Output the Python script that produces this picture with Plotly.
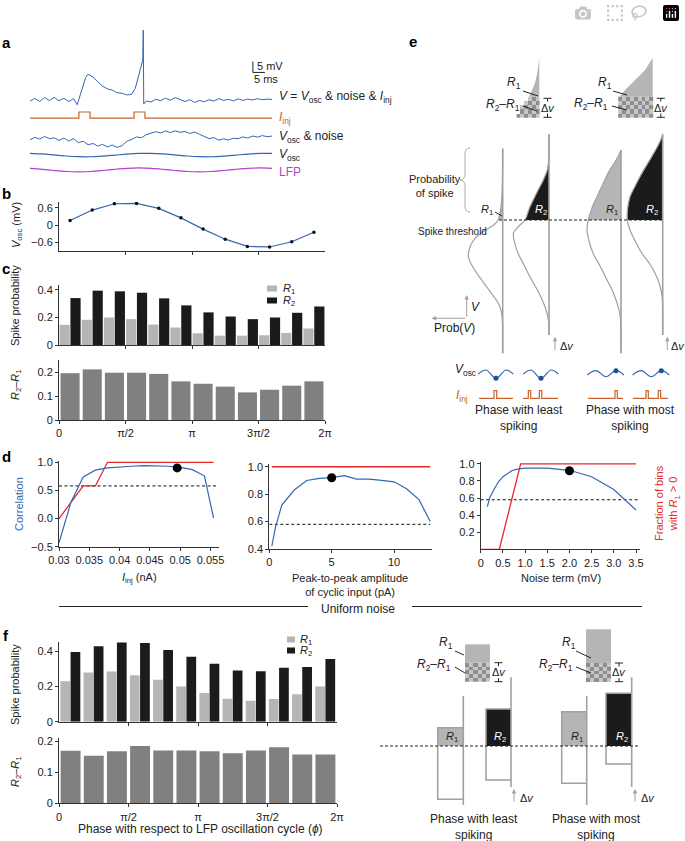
import numpy as np
import plotly.graph_objects as go

W, H = 685, 841
PI = np.pi
FONT = "Liberation Sans, Arial, Helvetica, sans-serif"
BLUE = "#3567b0"; RED = "#e8262b"; ORANGE = "#c9612c"; MAGENTA = "#b43fd0"
R1C = "#b5b5b5"; R2C = "#1b1b1b"; DIFFC = "#808080"; GL = "#a0a0a0"; INK = "#222222"

# ======================= DATA =======================
# ---- a: example traces (time ms; potential mV, display offsets) ----
a_v_t = [0, 2, 4, 6, 8, 10, 12, 14, 16, 18, 19.5, 21, 22, 23, 24, 26, 28, 30, 32, 34,
         36, 38, 40, 42, 43.5, 45, 46.6, 46.8, 47.0, 48, 50, 52, 54, 56, 58, 60, 62, 64,
         66, 68, 70, 72, 74, 76, 78, 80, 82, 84, 86, 88, 90, 92, 94, 96, 98, 100]
a_v_v = [35.2, 36.4, 35.0, 36.8, 35.5, 36.9, 35.3, 36.5, 35.0, 36.3,
         33.5, 38.5, 42.5, 46.0, 47.5, 46.2, 44.0, 42.0, 40.8, 40.2,
         39.0, 38.8, 38.0, 38.3, 41.0, 47.0, 54.0, 67.7, 33.8,
         35.2, 34.8, 36.0, 35.4, 36.5, 35.6, 36.8, 35.9, 35.0,
         35.8, 34.6, 35.5, 34.9, 35.8, 35.2, 36.3, 35.5, 36.0, 35.3, 36.2, 35.5, 36.1, 35.7, 36.3, 35.8, 36.1, 35.9]
a_inj_t = [0, 20.2, 20.2, 24.8, 24.8, 43.0, 43.0, 47.5, 47.5, 100]
a_inj_v = [27.4, 27.4, 30.2, 30.2, 27.4, 27.4, 30.2, 30.2, 27.4, 27.4]
a_noise_t = list(range(0, 101, 2))
a_noise_v = [17.5, 18.6, 17.8, 19.0, 18.0, 18.4, 17.2, 18.3, 16.9, 18.0,
             16.2, 16.8, 15.2, 15.8, 14.6, 15.4, 14.2, 15.1, 14.0, 14.8,
             16.8, 17.6, 18.8, 18.4, 19.8, 20.5, 21.2, 20.6, 21.5, 20.8,
             21.6, 20.9, 21.3, 20.4, 21.0, 20.0, 19.0, 18.0, 18.5, 17.3,
             17.9, 17.4, 18.2, 18.0, 18.8, 18.3, 19.2, 18.7, 19.4, 18.9, 19.2]
a_osc_t = list(range(0, 101, 5))
a_osc_v = [11.27, 11.01, 10.55, 10.07, 9.76, 9.72, 9.99, 10.45, 10.93, 11.24, 11.28,
           11.01, 10.55, 10.07, 9.76, 9.72, 9.99, 10.45, 10.93, 11.24, 11.28]
a_lfp_v = [4.43, 3.98, 3.42, 2.97, 2.80, 2.97, 3.42, 3.98, 4.43, 4.60, 4.43,
           3.98, 3.42, 2.97, 2.80, 2.97, 3.42, 3.98, 4.43, 4.60, 4.43]

# ---- b, c, f: 12 phase bins ----
n_bins = 12
phase_centers = [(k + 0.5) * 2 * PI / n_bins for k in range(n_bins)]
phase_ticks = [0, PI / 2, PI, 3 * PI / 2, 2 * PI]
phase_ticklabels = ["0", "π/2", "π", "3π/2", "2π"]
b_vosc = [0.16, 0.52, 0.74, 0.75, 0.58, 0.25, -0.14, -0.49, -0.74, -0.76, -0.58, -0.25]
c_r1 = [0.146, 0.183, 0.200, 0.188, 0.149, 0.127, 0.085, 0.068, 0.068, 0.071, 0.088, 0.120]
c_r2 = [0.341, 0.395, 0.390, 0.380, 0.339, 0.288, 0.237, 0.207, 0.188, 0.200, 0.234, 0.280]
c_diff = [0.195, 0.211, 0.197, 0.197, 0.192, 0.161, 0.151, 0.139, 0.115, 0.126, 0.143, 0.161]
f_r1 = [0.229, 0.278, 0.284, 0.263, 0.238, 0.200, 0.162, 0.130, 0.118, 0.128, 0.156, 0.200]
f_r2 = [0.394, 0.427, 0.448, 0.446, 0.406, 0.368, 0.328, 0.290, 0.286, 0.305, 0.310, 0.355]
f_diff = [0.169, 0.153, 0.167, 0.184, 0.170, 0.170, 0.167, 0.161, 0.170, 0.180, 0.157, 0.157]

# ---- d: parameter sweeps ----
d_chance = 0.58
d1_x = [0.030, 0.032, 0.034, 0.036, 0.038, 0.040, 0.042, 0.044, 0.046, 0.048, 0.050, 0.052, 0.054, 0.0555]
d1_corr = [-0.43, 0.30, 0.74, 0.86, 0.90, 0.92, 0.93, 0.94, 0.94, 0.93, 0.91, 0.87, 0.76, 0.01]
d1_frac_x = [0.030, 0.034, 0.036, 0.038, 0.0555]
d1_frac = [0.0, 0.58, 0.58, 1.0, 1.0]
d1_dot = [0.0495, 0.90]
d2_x = [0.2, 0.5, 1, 2, 3, 4, 5, 6, 7, 8, 9, 10, 11, 12, 12.9]
d2_corr = [0.42, 0.56, 0.72, 0.83, 0.90, 0.915, 0.92, 0.935, 0.91, 0.91, 0.90, 0.89, 0.84, 0.76, 0.60]
d2_frac_x = [0.2, 12.9]
d2_frac = [1.0, 1.0]
d2_dot = [5, 0.92]
d3_x = [0.15, 0.2, 0.3, 0.4, 0.5, 0.6, 0.7, 0.8, 0.9, 1.0, 1.5, 2.0, 2.5, 3.0, 3.5]
d3_corr = [0.50, 0.60, 0.70, 0.79, 0.85, 0.89, 0.92, 0.935, 0.945, 0.95, 0.95, 0.925, 0.85, 0.70, 0.46]
d3_frac_x = [0.0, 0.42, 0.9, 3.5]
d3_frac = [0.0, 0.0, 1.0, 1.0]
d3_dot = [2.0, 0.92]

# ---- e: schematic (drawn in page-pixel units) ----
e_thr_y = 220
e_line_x = [502.7, 549.0, 621.0, 662.7]
e_line_top = [148.3, 134.3, 150.0, 134.3]
e_line_bot = [353.3, 335.0, 353.3, 335.0]
e_curve_v = [
    [150, 190, 205, 215, 220, 225, 230, 235, 240, 248, 257, 265, 273, 280, 287, 295, 303, 311, 320, 353.3],
    [134.3, 160, 170, 180, 193, 206.7, 220, 226, 233, 240, 253, 266, 280, 293, 306.7, 320, 335],
    [150, 156.7, 165, 173.3, 185, 196.7, 208, 220, 230, 241, 253, 266, 280, 292, 303, 312, 320, 353.3],
    [134.3, 140, 148, 156.7, 165, 173.3, 185, 196.7, 208, 220, 230, 241, 253, 263, 273, 285, 296.7, 335]]
e_curve_p = [
    [0, 0.5, 1.5, 3, 4.5, 9, 17, 24, 29, 33, 34.3, 31, 26, 21, 16, 10, 4.5, 1.5, 0.3, 0],
    [0, 0.3, 1.7, 5.7, 12.3, 19, 24, 30, 35.5, 35, 31, 24.5, 17.3, 10, 4, 0.5, 0],
    [0, 3, 8, 13, 18.5, 24, 29, 32.7, 34, 32, 28, 21, 14, 8, 4, 1.5, 0.5, 0],
    [0, 2, 6, 11, 16, 21, 27, 32.7, 35, 35.4, 32.7, 27.5, 21, 13.5, 7.7, 3, 0.5, 0]]
e_fill = [R1C, R2C, R1C, R2C]
e_in_right = [539.3, 652.7]
e_in_v = [[58, 66, 73, 83, 90, 96.7, 102, 106.7, 112, 117.3],
          [58, 64, 70, 75, 80, 85, 90, 96.7, 106.7, 117.3]]
e_in_w = [[0, 1, 2, 4.3, 7, 10, 13.5, 16.7, 20, 22.7],
          [0, 3.5, 7.7, 12.5, 17.7, 23, 27.7, 32.7, 34.3, 34.5]]
e_in_mid = 96.7
e_in_bot = 117.3
e_wave_x = [[478.3, 486, 496, 506, 513.3], [523.3, 531, 541, 551, 558.3],
            [587.3, 596, 606, 616, 624], [632.6, 641.3, 651.3, 661.3, 669.3]]
e_wave_y = [[374, 370, 378.3, 370, 374], [374, 370, 378.3, 370, 374],
            [375, 370.7, 376.7, 370.7, 375], [375, 370.7, 376.7, 370.7, 375]]
e_wave_dot = [[496, 378.3], [541, 378.3], [616, 370.7], [661.3, 370.7]]
e_pulse_x = [[479, 494, 494, 496.7, 496.7, 513],
             [523, 528.3, 528.3, 530.7, 530.7, 539.3, 539.3, 541.7, 541.7, 558],
             [588, 615, 615, 617.3, 617.3, 623],
             [633, 646, 646, 648.3, 648.3, 658.3, 658.3, 660.7, 660.7, 668]]
e_pulse_lo, e_pulse_hi = 398.3, 390.7

# uniform-noise schematic
u_thr_y = 746
u_line_x = [463.3, 511.0, 586.7, 631.7]
u_line_top = [696, 677.3, 696, 677.3]
u_line_bot = [805, 787, 805, 787]
u_box_left = [437.7, 486.0, 561.7, 606.0]
u_box_top = [727.7, 709.0, 711.7, 693.3]
u_box_bot = [799.3, 780.0, 783.3, 764.0]
u_in_x = [[465, 490], [586, 611]]
u_in_top = [644.3, 629.3]
u_in_mid = [662.7, 663.0]
u_in_bot = 681.7

# ======================= FIGURE =======================
fig = go.Figure()

def Y(p):
    return 1 - p / H

def X(p):
    return p / W

def sc(x, y, ax, color=INK, width=1.0, dash=None, shape="linear", mode="lines", **kw):
    xa, ya = ax
    fig.add_trace(go.Scatter(x=x, y=y, xaxis=xa, yaxis=ya, mode=mode,
                             line=dict(color=color, width=width, dash=dash, shape=shape),
                             hoverinfo="skip", **kw))

A = ("x", "y"); B = ("x2", "y2"); C1 = ("x3", "y3"); C2 = ("x4", "y4")
D1 = ("x5", "y5"); D2 = ("x6", "y6"); D3 = ("x7", "y7"); F1 = ("x8", "y8"); F2 = ("x9", "y9")
E = ("x10", "y10")

# --- a ---
sc(a_v_t, a_v_v, A, BLUE, 1)
sc(a_inj_t, a_inj_v, A, ORANGE, 1.2)
sc(a_noise_t, a_noise_v, A, BLUE, 1)
sc(a_osc_t, a_osc_v, A, BLUE, 1.2, shape="spline")
sc(a_osc_t, a_lfp_v, A, MAGENTA, 1.2, shape="spline")

# --- b ---
sc(phase_centers, b_vosc, B, BLUE, 1.2, mode="lines+markers", marker=dict(color="#111", size=3.5))

# --- bars ---
s = 2 * PI / n_bins
def bar(y, ax, color, width, offset):
    fig.add_trace(go.Bar(x=phase_centers, y=y, xaxis=ax[0], yaxis=ax[1], width=width * s,
                         offset=offset * s, marker=dict(color=color, line=dict(width=0)),
                         hoverinfo="skip"))
bar(c_r1, C1, R1C, 0.46, -0.475)
bar(c_r2, C1, R2C, 0.46, 0.015)
bar(c_diff, C2, DIFFC, 0.86, -0.43)
bar(f_r1, F1, R1C, 0.42, -0.44)
bar(f_r2, F1, R2C, 0.42, -0.0)
bar(f_diff, F2, DIFFC, 0.86, -0.43)

# --- d ---
for ax, xs, cs, fx, fv, dot, xr in [(D1, d1_x, d1_corr, d1_frac_x, d1_frac, d1_dot, [0.030, 0.0562]),
                                     (D2, d2_x, d2_corr, d2_frac_x, d2_frac, d2_dot, [0.0, 12.9]),
                                     (D3, d3_x, d3_corr, d3_frac_x, d3_frac, d3_dot, [0.0, 3.6])]:
    sc(xr, [d_chance, d_chance], ax, "#111", 1, dash="3px,2.5px")
    sc(fx, fv, ax, RED, 1.3)
    sc(xs, cs, ax, BLUE, 1.2)
    sc([dot[0]], [dot[1]], ax, mode="markers", marker=dict(color="#000", size=9))

# --- e schematic ---
for k in range(4):
    lx = e_line_x[k]; V = e_curve_v[k]; P = e_curve_p[k]
    sel = [i for i, v in enumerate(V) if v <= e_thr_y]
    px_ = [lx - P[i] for i in sel] + [lx, lx]
    py_ = [V[i] for i in sel] + [e_thr_y, V[0]]
    fig.add_trace(go.Scatter(x=px_, y=py_, xaxis="x10", yaxis="y10", mode="lines", fill="toself",
                             fillcolor=e_fill[k], line=dict(width=0), hoverinfo="skip"))
    sc([lx - p for p in P], V, E, GL, 1.2, shape="spline")
    sc([lx, lx], [e_line_top[k], e_line_bot[k]], E, GL, 1.6)
sc([499, 662], [e_thr_y, e_thr_y], E, "#222", 1.2, dash="3px,2px")

CHECK_SCALE = [[0, "#8e8e8e"], [1, "#c6c6c6"]]
def checker(xl, xr, y0, y1, bound=None):
    nx = max(1, int(round((xr - xl) / 4.0))); ny = max(1, int(round((y1 - y0) / 4.0)))
    cw = (xr - xl) / nx; ch = (y1 - y0) / ny
    xs = [xr - cw * (i + 0.5) for i in range(nx)][::-1]
    ys = [y0 + ch * (j + 0.5) for j in range(ny)]
    z = []
    for j, yc in enumerate(ys):
        row = []
        left = bound(yc) if bound else xl
        for i, xc in enumerate(xs):
            row.append(((i + j) % 2) if xc >= left - 0.3 * cw else None)
        z.append(row)
    fig.add_trace(go.Heatmap(x=xs, y=ys, z=z, xaxis="x10", yaxis="y10", colorscale=CHECK_SCALE,
                             zmin=0, zmax=1, showscale=False, hoverinfo="skip"))

for k in range(2):
    xr = e_in_right[k]; V = e_in_v[k]; Wd = e_in_w[k]
    sel = [i for i, v in enumerate(V) if v <= e_in_mid]
    fig.add_trace(go.Scatter(x=[xr - Wd[i] for i in sel] + [xr, xr], y=[V[i] for i in sel] + [e_in_mid, V[0]],
                             xaxis="x10", yaxis="y10", mode="lines", fill="toself", fillcolor=R1C,
                             line=dict(width=0), hoverinfo="skip"))
    checker(xr - max(Wd), xr, e_in_mid, e_in_bot,
            bound=lambda y, V=V, Wd=Wd, xr=xr: xr - float(np.interp(y, V, Wd)))

for k in range(4):
    sc(e_wave_x[k], e_wave_y[k], E, BLUE, 1.2, shape="spline")
    sc([e_wave_dot[k][0]], [e_wave_dot[k][1]], E, mode="markers", marker=dict(color="#1f4f99", size=5))
    yy = [e_pulse_lo if (i % 4 in (0, 1)) else e_pulse_hi for i in range(len(e_pulse_x[k]))]
    sc(e_pulse_x[k], yy, E, ORANGE, 1.2)

# uniform noise schematic
for k in range(4):
    lx = u_line_x[k]; l = u_box_left[k]; t = u_box_top[k]; b = u_box_bot[k]
    fig.add_trace(go.Scatter(x=[l, lx, lx, l, l], y=[t, t, u_thr_y, u_thr_y, t], xaxis="x10", yaxis="y10",
                             mode="lines", fill="toself", fillcolor=e_fill[k], line=dict(width=0),
                             hoverinfo="skip"))
    sc([lx, l, l, lx], [t, t, b, b], E, GL, 1.5)
    sc([lx, lx], [u_line_top[k], u_line_bot[k]], E, GL, 1.6)
sc([380, 638], [u_thr_y, u_thr_y], E, "#222", 1.2, dash="3px,2px")
for k in range(2):
    x0, x1 = u_in_x[k]
    fig.add_trace(go.Scatter(x=[x0, x1, x1, x0, x0], y=[u_in_top[k], u_in_top[k], u_in_mid[k], u_in_mid[k], u_in_top[k]],
                             xaxis="x10", yaxis="y10", mode="lines", fill="toself", fillcolor=R1C,
                             line=dict(width=0), hoverinfo="skip"))
    checker(x0, x1, u_in_mid[k], u_in_bot)

# ======================= TEXT / DECOR =======================
ann = []; shp = []
def T(x, y, s, size=11, color=INK, xa="center", ya="middle", angle=0):
    ann.append(dict(x=x, y=y, xref="x10", yref="y10", text=s, showarrow=False, textangle=angle,
                    font=dict(size=size, color=color, family=FONT), xanchor=xa, yanchor=ya))
def ARW(x0, y0, x1, y1):
    ann.append(dict(x=x1, y=y1, ax=x0, ay=y0, xref="x10", yref="y10", axref="x10", ayref="y10",
                    text="", showarrow=True, arrowhead=2, arrowsize=0.9, arrowwidth=1, arrowcolor=GL,
                    standoff=0, startstandoff=0))
def Ln(x0, y0, x1, y1, color=INK, width=1, xref="x10", yref="y10"):
    shp.append(dict(type="line", x0=x0, y0=y0, x1=x1, y1=y1, xref=xref, yref=yref,
                    line=dict(color=color, width=width)))
def Rc(x0, y0, x1, y1, color):
    shp.append(dict(type="rect", x0=x0, y0=y0, x1=x1, y1=y1, xref="x10", yref="y10",
                    fillcolor=color, line=dict(width=0)))

R1 = "<i>R</i><sub>1</sub>"; R2 = "<i>R</i><sub>2</sub>"; R21 = "<i>R</i><sub>2</sub>–<i>R</i><sub>1</sub>"
DV = "Δ<i>v</i>"
VOSC = "<i>V</i><sub>osc</sub>"; IINJ = "<i>I</i><sub>inj</sub>"

# panel letters
for lt, x, y in [("a", 6, 42), ("b", 6, 193), ("c", 6, 268), ("d", 6, 456), ("e", 413, 41), ("f", 6, 635)]:
    T(x, y, "<b>%s</b>" % lt, size=15, color="#000")

# a labels and scale bar
T(277, 97, "<i>V</i> = " + VOSC + " &amp; noise &amp; " + IINJ, 12, xa="left")
T(277, 118, IINJ, 12, ORANGE, xa="left")
T(277, 137, VOSC + " &amp; noise", 12, xa="left")
T(277, 155, VOSC, 12, xa="left")
T(277, 172, "LFP", 12, MAGENTA, xa="left")
Ln(92.1, 48.3, 92.1, 53.3, "#222", 1, "x", "y")
Ln(92.1, 48.3, 97.1, 48.3, "#222", 1, "x", "y")
T(255, 66, "5 mV", 11, xa="left")
T(252, 79, "5 ms", 11, xa="left")

# axis titles
T(17, 225, VOSC + " (mV)", 11, angle=-90)
T(15, 306, "Spike probability", 11, angle=-90)
T(16, 385, R21, 11, angle=-90)
T(19, 504, "Correlation", 11, BLUE, angle=-90)
T(667, 503, "Fraction of bins<br>with " + R1 + " > 0", 11, RED, angle=-90)
T(15, 685, "Spike probability", 11, angle=-90)
T(16, 772, R21, 11, angle=-90)
T(139, 578, IINJ + " (nA)", 11)
T(350, 585, "Peak-to-peak amplitude<br>of cyclic input (pA)", 11)
T(561, 578, "Noise term (mV)", 11)
T(200, 829, "Phase with respect to LFP oscillation cycle (<i>ϕ</i>)", 12)

# legends
Rc(267, 285.5, 277, 291.5, R1C); Rc(267, 297.5, 277, 303.5, R2C)
T(281, 288.5, R1, 11, xa="left"); T(281, 300.5, R2, 11, xa="left")
Rc(287, 636.5, 295, 642.5, R1C); Rc(287, 647.5, 295, 653.5, R2C)
T(298, 639.5, R1, 11, xa="left"); T(298, 650.5, R2, 11, xa="left")

# uniform noise separator
Ln(59, 606.5, 308, 606.5); Ln(412, 606.5, 642, 606.5)
T(358, 609, "Uniform noise", 12)

# e labels
T(435, 186, "Probability<br>of spike", 11)
shp.append(dict(type="path", xref="x10", yref="y10", line=dict(color="#aaaaaa", width=1),
                path="M 470 148 Q 465 148 465 154 L 465 174 Q 465 180 460 180 Q 465 180 465 186 L 465 206 Q 465 212 470 212"))
T(452, 231, "Spike threshold", 10)
T(487, 210, R1, 11); Ln(495, 212, 502, 216)
T(541, 210, R2, 11, "#ffffff")
T(612, 210, R1, 11)
T(652, 210, R2, 11, "#ffffff")
ARW(466.7, 318.3, 466.7, 295); ARW(466.7, 318.3, 431.7, 318.3)
T(475, 307, "<i>V</i>", 12)
T(454, 328, "Prob(<i>V</i>)", 12)
ARW(555, 351.7, 555, 336.7); T(567, 346, DV, 11)
ARW(667.3, 351.7, 667.3, 336.7); T(678, 346, DV, 11)
T(465, 370, VOSC, 12)
T(462, 396, IINJ, 12, ORANGE)
T(519, 418, "Phase with least<br>spiking", 12)
T(630, 418, "Phase with most<br>spiking", 12)

# e insets (Gaussian)
for (r1x, r1y, l1, r21x, r21y, l2, bx) in [
        (514, 83, (523, 91, 538, 96), 522, 105, (523, 106, 537, 111), 547.5),
        (605, 83, (613, 91, 627, 95), 610, 104, (612, 106, 627, 110), 660.8)]:
    T(r1x, r1y, R1, 12); Ln(*l1)
    T(r21x, r21y, R21, 12, xa="right"); Ln(*l2)
    Ln(bx - 4, 98.3, bx + 4, 98.3); Ln(bx, 98.3, bx, 101.5)
    Ln(bx - 4, 117.3, bx + 4, 117.3); Ln(bx, 113.5, bx, 117.3)
    T(bx, 107.5, DV, 11)

# uniform-noise labels
for (r1x, l1, r21x, l2, bx, top, bot) in [
        (446, (455, 651, 464, 655), 453, (455, 667, 465, 673), 498.5, 662.7, 681.7),
        (569, (576, 651, 591, 658), 575, (576, 667, 591, 673), 619, 663, 681.7)]:
    T(r1x, 643, R1, 12); Ln(*l1)
    T(r21x, 665, R21, 12, xa="right"); Ln(*l2)
    Ln(bx - 4, top, bx + 4, top); Ln(bx, top, bx, top + 3.5)
    Ln(bx - 4, bot, bx + 4, bot); Ln(bx, bot - 3.5, bx, bot)
    T(bx, (top + bot) / 2, DV, 11)
T(452, 737, R1, 11); T(500, 737, R2, 11, "#ffffff")
T(577, 737, R1, 11); T(622, 737, R2, 11, "#ffffff")
ARW(514, 803, 514, 789); T(527, 798, DV, 11)
ARW(635, 803, 635, 789); T(648, 798, DV, 11)
T(474, 827, "Phase with least<br>spiking", 12)
T(596, 827, "Phase with most<br>spiking", 12)

# ======================= AXES =======================
def ax(domain, rng, anchor, **kw):
    d = dict(domain=domain, range=rng, anchor=anchor, showgrid=False, zeroline=False, showline=True,
             linecolor="#333", linewidth=1, ticks="outside", ticklen=3, tickwidth=1, tickcolor="#333",
             tickfont=dict(size=11, color=INK, family=FONT), fixedrange=True, automargin=False)
    d.update(kw)
    return d

def hid(domain, rng, anchor):
    return dict(domain=domain, range=rng, anchor=anchor, visible=False, fixedrange=True, automargin=False)

xb = [X(59), X(325)]; xf = [X(59), X(337)]
fig.update_layout(
    template="none",
    width=W, height=H, autosize=False,
    margin=dict(l=0, r=0, t=0, b=0, pad=0, autoexpand=False), showlegend=False, barmode="overlay",
    paper_bgcolor="white", plot_bgcolor="rgba(0,0,0,0)", hovermode=False,
    font=dict(family=FONT, color=INK),
    xaxis=hid([X(30), X(272)], [0, 100], "y"),
    yaxis=hid([Y(178), Y(25)], [0, 70], "x"),
    xaxis2=ax(xb, [0, 2 * PI], "y2", tickvals=phase_ticks[1:4], showticklabels=False),
    yaxis2=ax([Y(251), Y(202)], [-0.9, 0.8], "x2", tickvals=[-0.6, 0, 0.6], ticktext=["−0.6", "0", "0.6"]),
    xaxis3=ax(xb, [0, 2 * PI], "y3", tickvals=phase_ticks[1:4], showticklabels=False),
    yaxis3=ax([Y(345), Y(285)], [0, 0.436], "x3", tickvals=[0, 0.2, 0.4], ticktext=["0", "0.2", "0.4"]),
    xaxis4=ax(xb, [0, 2 * PI], "y4", tickvals=phase_ticks, ticktext=phase_ticklabels),
    yaxis4=ax([Y(420), Y(360)], [0, 0.25], "x4", tickvals=[0, 0.1, 0.2], ticktext=["0", "0.1", "0.2"]),
    xaxis5=ax([X(59), X(219)], [0.03, 0.0564], "y5", tickvals=[0.03, 0.035, 0.04, 0.045, 0.05, 0.055],
              ticktext=["0.03", "0.035", "0.04", "0.045", "0.05", "0.055"]),
    yaxis5=ax([Y(546.7), Y(461)], [-0.5, 1.023], "x5", tickvals=[-0.5, 0, 0.5, 1.0],
              ticktext=["−0.5", "0.0", "0.5", "1.0"]),
    xaxis6=ax([X(269.3), X(432)], [0, 13.04], "y6", tickvals=[0, 5, 10]),
    yaxis6=ax([Y(549), Y(464)], [0.4, 1.02], "x6", tickvals=[0.4, 0.6, 0.8, 1.0],
              ticktext=["0.4", "0.6", "0.8", "1.0"]),
    xaxis7=ax([X(480.7), X(640)], [0, 3.59], "y7", tickvals=[0, 0.5, 1, 1.5, 2, 2.5, 3, 3.5],
              ticktext=["0", "0.5", "1.0", "1.5", "2.0", "2.5", "3.0", "3.5"]),
    yaxis7=ax([Y(549.3), Y(462)], [0, 1.022], "x7", tickvals=[0.2, 0.4, 0.6, 0.8, 1.0],
              ticktext=["0.2", "0.4", "0.6", "0.8", "1.0"]),
    xaxis8=ax(xf, [0, 2 * PI], "y8", tickvals=phase_ticks[1:4], showticklabels=False),
    yaxis8=ax([Y(721.7), Y(641.7)], [0, 0.453], "x8", tickvals=[0, 0.2, 0.4], ticktext=["0", "0.2", "0.4"]),
    xaxis9=ax(xf, [0, 2 * PI], "y9", tickvals=phase_ticks, ticktext=phase_ticklabels),
    yaxis9=ax([Y(803.3), Y(738)], [0, 0.21], "x9", tickvals=[0, 0.1, 0.2], ticktext=["0", "0.1", "0.2"]),
    xaxis10=hid([0, 1], [0, W], "y10"),
    yaxis10=hid([0, 1], [H, 0], "x10"),
    annotations=ann, shapes=shp,
)

fig.write_html("out.html", post_script="document.body.style.margin='0';document.body.style.overflow='hidden';")
